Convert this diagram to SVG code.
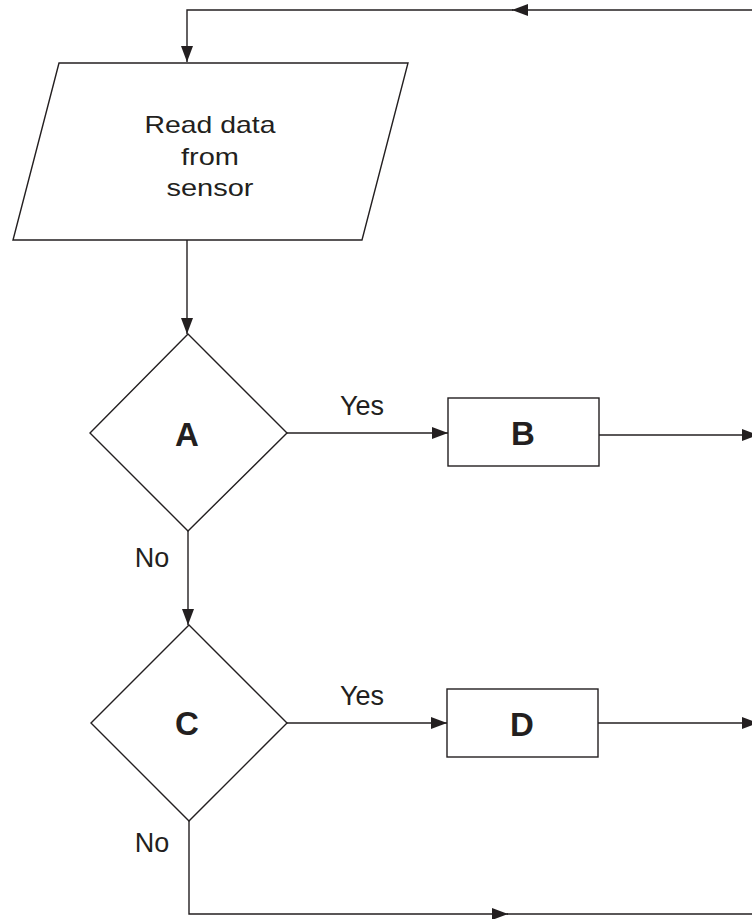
<svg xmlns="http://www.w3.org/2000/svg" width="752" height="919" viewBox="0 0 752 919">
<style>
.shape{fill:#ffffff;stroke:#231f20;stroke-width:1.4}
.conn{fill:none;stroke:#231f20;stroke-width:1.4}
.t{font-family:"Liberation Sans",Arial,sans-serif;fill:#231f20;text-anchor:middle}
.lbl{font-size:27px}
.big{font-size:33px;font-weight:bold}
.io{font-size:24px}
</style>
<defs>
<marker id="arr" markerUnits="userSpaceOnUse" markerWidth="16" markerHeight="12" refX="16" refY="6" orient="auto">
<path d="M0,0 L16,6 L0,12 z" fill="#231f20"/>
</marker>
</defs>
<rect width="752" height="919" fill="#ffffff"/>
<g id="connectors">
<path class="conn" d="M760 10 H512" marker-end="url(#arr)"/>
<path class="conn" d="M513 10 H187 V62" marker-end="url(#arr)"/>
<path class="conn" d="M187 240 V334" marker-end="url(#arr)"/>
<path class="conn" d="M287 433 H448" marker-end="url(#arr)"/>
<path class="conn" d="M599 435 H758" marker-end="url(#arr)"/>
<path class="conn" d="M188 531 V625" marker-end="url(#arr)"/>
<path class="conn" d="M287 723 H447" marker-end="url(#arr)"/>
<path class="conn" d="M598 723 H758" marker-end="url(#arr)"/>
<path class="conn" d="M189 821 V914 H508" marker-end="url(#arr)"/>
<path class="conn" d="M507 914 H760"/>
<text class="t lbl" x="362" y="415">Yes</text>
<text class="t lbl" x="152" y="567">No</text>
<text class="t lbl" x="362" y="705">Yes</text>
<text class="t lbl" x="152" y="852">No</text>
</g>
<g id="read">
<polygon class="shape" points="59,63 408,63 362,240 13,240"/>
<text class="t io" x="210" y="133" textLength="131" lengthAdjust="spacingAndGlyphs">Read data</text>
<text class="t io" x="210" y="165" textLength="58" lengthAdjust="spacingAndGlyphs">from</text>
<text class="t io" x="210" y="196" textLength="87" lengthAdjust="spacingAndGlyphs">sensor</text>
</g>
<g id="A">
<polygon class="shape" points="188,334 287,433 188,531 90,433"/>
<text class="t big" x="187" y="446">A</text>
</g>
<g id="B">
<rect class="shape" x="448" y="398" width="151" height="68"/>
<text class="t big" x="523" y="445">B</text>
</g>
<g id="C">
<polygon class="shape" points="189,625 287,723 189,821 91,723"/>
<text class="t big" x="187" y="735">C</text>
</g>
<g id="D">
<rect class="shape" x="447" y="689" width="151" height="68"/>
<text class="t big" x="522" y="736">D</text>
</g>
</svg>
